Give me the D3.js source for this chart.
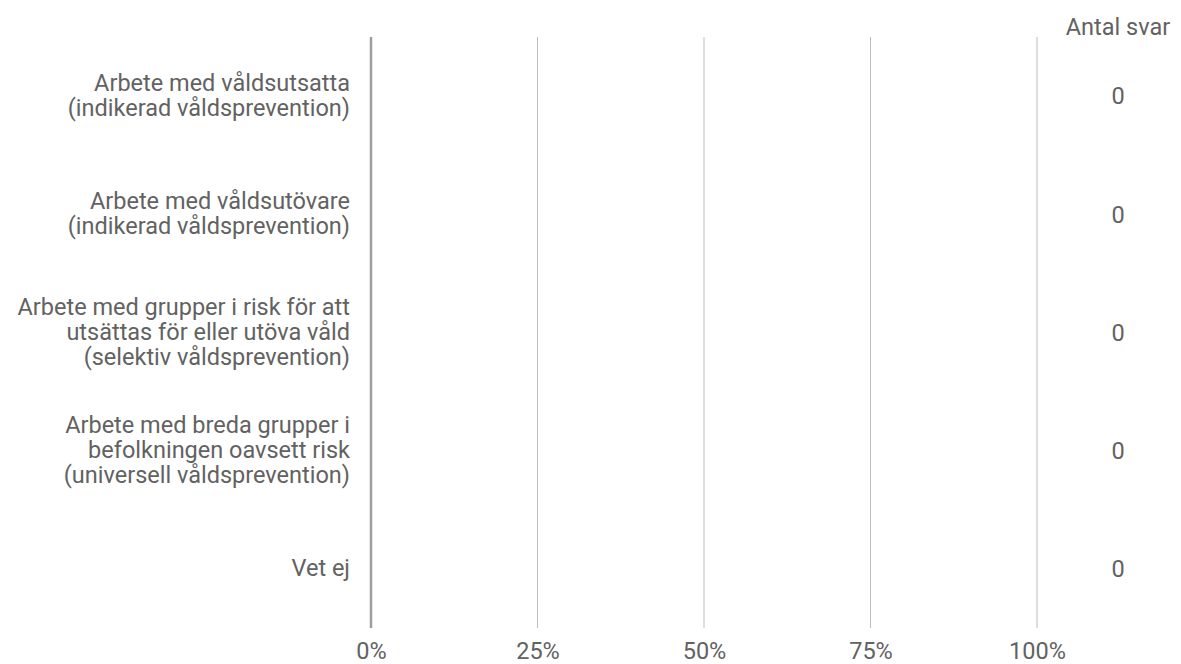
<!DOCTYPE html>
<html>
<head>
<meta charset="utf-8">
<script src="https://cdn.jsdelivr.net/npm/d3@7"></script>
<style>
  html, body { margin: 0; padding: 0; background: #fff; }
  svg { display: block; font-family: Roboto, "Noto Sans", sans-serif; }
</style>
</head>
<body>
<svg id="chart" width="1181" height="664"></svg>
<script>
const categories = [
  ["Arbete med våldsutsatta", "(indikerad våldsprevention)"],
  ["Arbete med våldsutövare", "(indikerad våldsprevention)"],
  ["Arbete med grupper i risk för att", "utsättas för eller utöva våld", "(selektiv våldsprevention)"],
  ["Arbete med breda grupper i", "befolkningen oavsett risk", "(universell våldsprevention)"],
  ["Vet ej"]
];
const values = [0, 0, 0, 0, 0];
const counts = [0, 0, 0, 0, 0];
const tickValues = [0, 0.25, 0.5, 0.75, 1];
const tickLabels = ["0%", "25%", "50%", "75%", "100%"];
const countHeader = "Antal svar";

const svg = d3.select("#chart");
const keys = categories.map((c, i) => i);

const x = d3.scaleLinear().domain([0, 1]).range([371, 1037]);
const y = d3.scaleBand().domain(keys).range([37, 628]).paddingInner(0.3).paddingOuter(0.15);
const textColor = "#626262";
const fontSize = 23.5;
const lineH = 25;

// grid lines
svg.append("g").selectAll("line")
  .data(tickValues.slice(1))
  .join("line")
  .attr("x1", d => x(d)).attr("x2", d => x(d))
  .attr("y1", 37).attr("y2", 628)
  .attr("stroke", "#bdbdbd").attr("stroke-width", 1);

// bars (all zero)
svg.append("g").selectAll("rect")
  .data(values)
  .join("rect")
  .attr("x", x(0))
  .attr("y", (d, i) => y(i))
  .attr("width", d => x(d) - x(0))
  .attr("height", y.bandwidth())
  .attr("fill", "#4472c4");

// zero axis line
svg.append("line")
  .attr("x1", x(0)).attr("x2", x(0))
  .attr("y1", 37).attr("y2", 628)
  .attr("stroke", "#9e9e9e").attr("stroke-width", 2.5);

// x tick labels
const xAxis = d3.axisBottom(x).tickValues(tickValues)
  .tickFormat((d, i) => tickLabels[i]).tickSize(0).tickPadding(0);
const gx = svg.append("g").attr("transform", "translate(0,628)").call(xAxis);
gx.select(".domain").remove();
gx.selectAll("text")
  .attr("y", 31).attr("dy", 0)
  .attr("fill", textColor)
  .style("font-size", fontSize + "px")
  .style("font-family", "Roboto, sans-serif");

// category labels
const labels = svg.append("g").selectAll("text")
  .data(categories)
  .join("text")
  .attr("text-anchor", "end")
  .attr("fill", textColor)
  .style("font-size", fontSize + "px")
  .attr("x", 350)
  .attr("y", (d, i) => y(i) + y.bandwidth() / 2);
labels.each(function(lines) {
  const t = d3.select(this);
  const n = lines.length;
  lines.forEach((ln, j) => {
    t.append("tspan")
      .attr("x", 350)
      .attr("dy", j === 0 ? (((-(n - 1) / 2) * lineH) + fontSize * 0.3) + "px" : lineH + "px")
      .text(ln);
  });
});

// count header
svg.append("text")
  .attr("x", 1118).attr("y", 27).attr("dy", "0.35em")
  .attr("text-anchor", "middle")
  .attr("fill", textColor)
  .style("font-size", fontSize + "px")
  .text(countHeader);

// counts
svg.append("g").selectAll("text")
  .data(counts)
  .join("text")
  .attr("x", 1118)
  .attr("y", (d, i) => y(i) + y.bandwidth() / 2)
  .attr("dy", "0.35em")
  .attr("text-anchor", "middle")
  .attr("fill", textColor)
  .style("font-size", fontSize + "px")
  .text(d => d);
</script>
</body>
</html>
